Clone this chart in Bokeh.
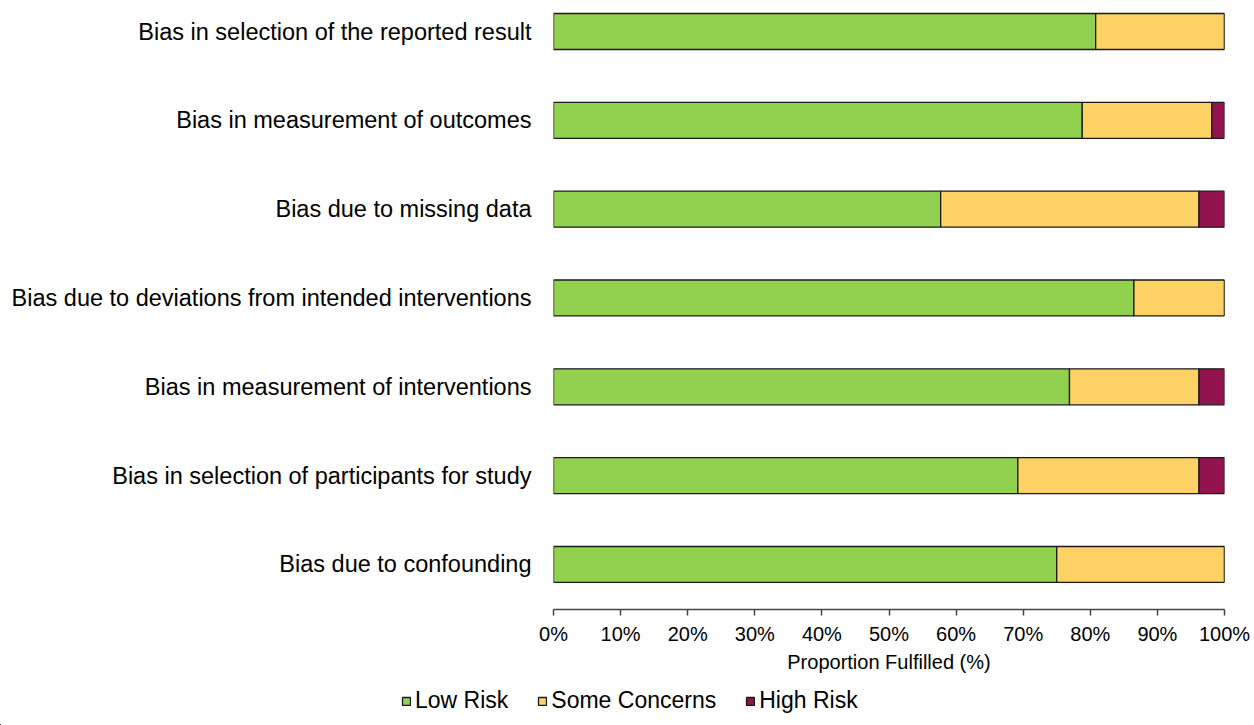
from bokeh.plotting import figure
from bokeh.layouts import column, row
from bokeh.models import Range1d, FixedTicker, ColumnDataSource, Legend, LegendItem
from bokeh.embed import file_html
from bokeh.resources import INLINE

# Domains, listed bottom to top
domains = [
    "Bias due to confounding",
    "Bias in selection of participants for study",
    "Bias in measurement of interventions",
    "Bias due to deviations from intended interventions",
    "Bias due to missing data",
    "Bias in measurement of outcomes",
    "Bias in selection of the reported result",
]
low_risk = [75.0, 69.2, 76.9, 86.5, 57.7, 78.8, 80.8]
some_concerns = [25.0, 27.0, 19.3, 13.5, 38.5, 19.3, 19.2]
high_risk = [0.0, 3.8, 3.8, 0.0, 3.8, 1.9, 0.0]

series_names = ["Low Risk", "Some Concerns", "High Risk"]
series_colors = ["#92D050", "#FFD265", "#93134F"]
x_ticks = [0, 10, 20, 30, 40, 50, 60, 70, 80, 90, 100]

FONT = "Liberation Sans"
W = 1250

ypos = list(range(len(domains)))
l1 = [0.0] * len(domains)
r1 = [a for a in low_risk]
r2 = [a + b for a, b in zip(low_risk, some_concerns)]
r3 = [a + b + c for a, b, c in zip(low_risk, some_concerns, high_risk)]

src = ColumnDataSource(dict(y=ypos, l1=l1, r1=r1, r2=r2, r3=r3))
stack_cols = [("l1", "r1"), ("r1", "r2"), ("r2", "r3")]

p = figure(width=W, height=685, output_backend="svg", toolbar_location=None,
           x_range=Range1d(0, 100), y_range=Range1d(-0.507, 6.349),
           min_border_left=553, min_border_right=W - 1224, min_border_top=0,
           min_border_bottom=76)
p.outline_line_color = None
p.grid.visible = False

for (lft, rgt), color in zip(stack_cols, series_colors):
    p.hbar(y="y", left=lft, right=rgt, height=0.405, source=src,
           fill_color=color, line_color="#1a1a1a", line_width=1.3)

# x axis
p.xaxis.ticker = FixedTicker(ticks=x_ticks)
p.xaxis.major_label_overrides = {t: f"{t}%" for t in x_ticks}
p.xaxis.axis_label = "Proportion Fulfilled (%)"
p.xaxis.axis_label_text_font = FONT
p.xaxis.axis_label_text_font_style = "normal"
p.xaxis.axis_label_text_font_size = "20px"
p.xaxis.axis_label_text_color = "black"
p.xaxis.axis_label_standoff = 3
p.xaxis.major_label_text_font = FONT
p.xaxis.major_label_text_font_size = "20px"
p.xaxis.major_label_text_color = "black"
p.xaxis.major_label_standoff = 7
p.xaxis.axis_line_color = "#444444"
p.xaxis.axis_line_width = 1.5
p.xaxis.major_tick_line_color = "#444444"
p.xaxis.major_tick_line_width = 1.5
p.xaxis.major_tick_out = 6
p.xaxis.major_tick_in = 0
p.xaxis.minor_tick_line_color = None

# y axis with domain labels
p.yaxis.ticker = FixedTicker(ticks=ypos)
p.yaxis.major_label_overrides = {i: d for i, d in zip(ypos, domains)}
p.yaxis.major_label_text_font = FONT
p.yaxis.major_label_text_font_size = "23.5px"
p.yaxis.major_label_text_color = "black"
p.yaxis.major_label_standoff = 22
p.yaxis.axis_line_color = None
p.yaxis.major_tick_line_color = None
p.yaxis.minor_tick_line_color = None
p.yaxis.major_tick_out = 0
p.yaxis.major_tick_in = 0

# legend strip below the chart (its bars lie far outside its view; only the key shows)
lg = figure(width=W, height=40, output_backend="svg", toolbar_location=None,
            x_range=Range1d(1000, 1001), y_range=Range1d(1000, 1001),
            x_axis_type=None, y_axis_type=None, min_border=0)
lg.outline_line_color = None
lg.grid.visible = False
lg_rs = [lg.hbar(y="y", left=lft, right=rgt, height=0.405, source=src,
                 fill_color=c, line_color="#1a1a1a", line_width=1.3)
         for (lft, rgt), c in zip(stack_cols, series_colors)]
legend = Legend(items=[LegendItem(label=n, renderers=[r]) for n, r in zip(series_names, lg_rs)],
                orientation="horizontal", location=(401, 11),
                glyph_width=10, glyph_height=10, label_standoff=4, spacing=29,
                padding=0, margin=0, border_line_color=None,
                background_fill_alpha=0,
                label_text_font=FONT, label_text_font_size="23px",
                label_text_color="black")
lg.add_layout(legend, "center")

layout = column(p, row(lg), spacing=0)
open("out.html", "w").write(file_html(layout, INLINE))
